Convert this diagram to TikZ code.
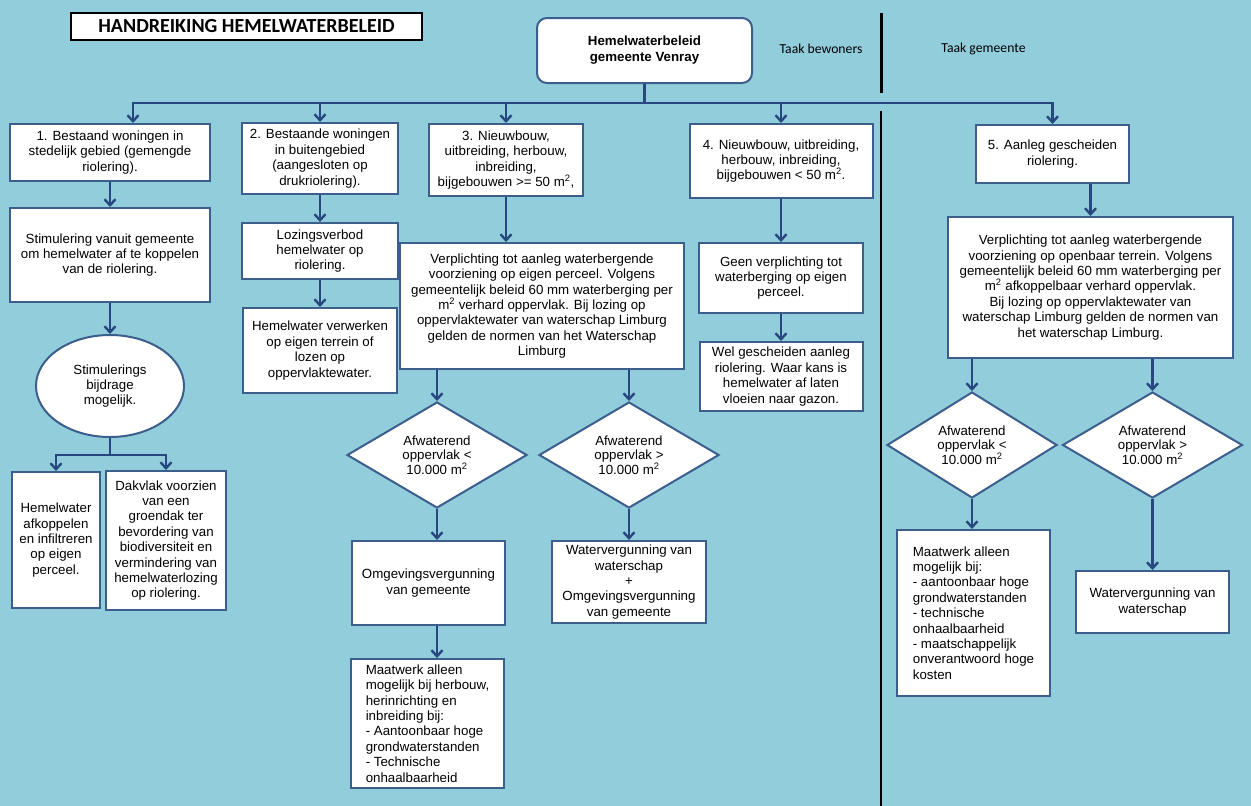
\documentclass[tikz,border=0pt]{standalone}
\usepackage{fontspec}
\setmainfont{Liberation Sans}
\newfontfamily\calibri{Carlito}
\usetikzlibrary{shapes.geometric,arrows.meta}

\definecolor{water}{RGB}{146,205,220}
\definecolor{rand}{RGB}{59,94,140}
\definecolor{pijl}{RGB}{38,72,126}

\begin{document}
\begin{tikzpicture}[x=1pt,y=-1pt,>={Straight Barb[length=6pt,width=11pt]},
  box/.style={draw=rand,fill=white,line width=2pt,inner sep=0pt,align=center,
    font=\fontsize{13.3}{15.4}\selectfont},
  ruit/.style={box,diamond,aspect=1.7,font=\fontsize{13.3}{14.6}\selectfont},
  lijst/.style={box,align=left},
  conn/.style={->,draw=pijl,line width=2.4pt},
  taak/.style={font=\calibri\fontsize{13.7}{16}\selectfont}]
  \fill[water] (0,0) rectangle (1251,806);
  \useasboundingbox (0,0) rectangle (1251,806);

  % kop en taken
  \node[draw=black,fill=white,line width=1.8pt,minimum width=351,minimum height=27,
    font=\calibri\bfseries\fontsize{20}{22}\selectfont] (kop) at (246.5,26.5) {HANDREIKING HEMELWATERBELEID};
  \node[box,rounded corners=10pt,minimum width=215,minimum height=65,
    font=\bfseries\fontsize{13.3}{16}\selectfont] (top) at (644.5,50.5) {Hemelwaterbeleid\\gemeente Venray};
  \node[taak] (bew) at (821,49) {Taak bewoners};
  \node[taak] (gem) at (983.5,49) {Taak gemeente};
  \draw[line width=3pt] (881,13) -- (881,93);
  \draw[line width=1.8pt] (881,111) -- (881,806);

  % eerste rij
  \node[box,minimum width=200,minimum height=57] (b1) at (110,152.5) {1. Bestaand woningen in\\stedelijk gebied (gemengde\\riolering).};
  \node[box,minimum width=156,minimum height=71] (b2) at (320,158.5) {2. Bestaande woningen\\in buitengebied\\(aangesloten op\\drukriolering).};
  \node[box,minimum width=154,minimum height=72] (b3) at (506,160) {3. Nieuwbouw,\\uitbreiding, herbouw,\\inbreiding,\\bijgebouwen >= 50 m\textsuperscript{2},};
  \node[box,minimum width=183,minimum height=74] (b4) at (781,161) {4. Nieuwbouw, uitbreiding,\\herbouw, inbreiding,\\bijgebouwen < 50 m\textsuperscript{2}.};
  \node[box,minimum width=153,minimum height=58] (b5) at (1052.5,154) {5. Aanleg gescheiden\\riolering.};

  % kolom 1
  \node[box,minimum width=200,minimum height=94] (b1b) at (110,255) {Stimulering vanuit gemeente\\om hemelwater af te koppelen\\van de riolering.};
  \node[box,ellipse,minimum width=148,minimum height=102] (e) at (110,386) {Stimulerings\\bijdrage\\mogelijk.};
  \node[box,minimum width=88,minimum height=136] (b1c) at (56,540) {Hemelwater\\afkoppelen\\en infiltreren\\op eigen\\perceel.};
  \node[box,minimum width=120,minimum height=139] (b1d) at (166,540.5) {Dakvlak voorzien\\van een\\groendak ter\\bevordering van\\biodiversiteit en\\vermindering van\\hemelwaterlozing\\op riolering.};

  % kolom 2
  \node[box,minimum width=156,minimum height=56] (b2b) at (320,251) {Lozingsverbod\\hemelwater op\\riolering.};
  \node[box,minimum width=154,minimum height=85] (b2c) at (320,350.5) {Hemelwater verwerken\\op eigen terrein of\\lozen op\\oppervlaktewater.};

  % kolom 3
  \node[box,minimum width=284,minimum height=126] (b3b) at (542,306) {Verplichting tot aanleg waterbergende\\voorziening op eigen perceel. Volgens\\gemeentelijk beleid 60 mm waterberging per\\m\textsuperscript{2} verhard oppervlak. Bij lozing op\\oppervlaktewater van waterschap Limburg\\gelden de normen van het Waterschap\\Limburg};
  \node[ruit,minimum width=180,minimum height=106] (dL) at (437,455) {Afwaterend\\oppervlak <\\10.000 m\textsuperscript{2}};
  \node[ruit,minimum width=180,minimum height=106] (dR) at (629,455) {Afwaterend\\oppervlak >\\10.000 m\textsuperscript{2}};
  \node[box,minimum width=153,minimum height=84] (b3c) at (428.5,583) {Omgevingsvergunning\\van gemeente};
  \node[box,minimum width=154,minimum height=82] (b3d) at (629,582) {Watervergunning van\\waterschap\\+\\Omgevingsvergunning\\van gemeente};
  \node[lijst,minimum width=153,minimum height=129] (b3e) at (427.5,723.5) {Maatwerk alleen\\mogelijk bij herbouw,\\herinrichting en\\inbreiding bij:\\- Aantoonbaar hoge\\grondwaterstanden\\- Technische\\onhaalbaarheid};

  % kolom 4
  \node[box,minimum width=164,minimum height=70] (b4b) at (781,278) {Geen verplichting tot\\waterberging op eigen\\perceel.};
  \node[box,minimum width=163,minimum height=69] (b4c) at (781,376.5) {Wel gescheiden aanleg\\riolering. Waar kans is\\hemelwater af laten\\vloeien naar gazon.};

  % kolom 5
  \node[box,minimum width=285,minimum height=141] (b5b) at (1090.5,287.5) {Verplichting tot aanleg waterbergende\\voorziening op openbaar terrein. Volgens\\gemeentelijk beleid 60 mm waterberging per\\m\textsuperscript{2} afkoppelbaar verhard oppervlak.\\Bij lozing op oppervlaktewater van\\waterschap Limburg gelden de normen van\\het waterschap Limburg.};
  \node[ruit,minimum width=170,minimum height=106] (d5L) at (972,445) {Afwaterend\\oppervlak <\\10.000 m\textsuperscript{2}};
  \node[ruit,minimum width=180,minimum height=106] (d5R) at (1152.5,445) {Afwaterend\\oppervlak >\\10.000 m\textsuperscript{2}};
  \node[lijst,minimum width=153,minimum height=166] (b5c) at (973.5,613) {Maatwerk alleen\\mogelijk bij:\\- aantoonbaar hoge\\grondwaterstanden\\- technische\\onhaalbaarheid\\- maatschappelijk\\onverantwoord hoge\\kosten};
  \node[box,minimum width=153,minimum height=62] (b5d) at (1152.5,602) {Watervergunning van\\waterschap};

  % verbindingen
  \coordinate (bus) at (645,103);
  \draw[conn] (top.south) -- (top.south |- bus) -| ([xshift=23pt]b1.north);
  \draw[conn] (top.south) -- (top.south |- bus) -| (b2.north);
  \draw[conn] (top.south) -- (top.south |- bus) -| (b3.north);
  \draw[conn] (top.south) -- (top.south |- bus) -| (b4.north);
  \draw[conn] (top.south) -- (top.south |- bus) -| (b5.north);
  \draw[conn] (e.south) -- ++(0,17) -| (b1c.north);
  \draw[conn] (e.south) -- ++(0,17) -| (b1d.north);

  \path[conn]
    (b1) edge (b1b)
    (b1b) edge (e)
    (b2) edge (b2b)
    (b2b) edge (b2c)
    (dR) edge (b3d)
    (b4) edge (b4b)
    (b4b) edge (b4c)
    (d5R) edge (b5d);
  \draw[conn] (b3.south) -- (b3.south |- b3b.north);
  \draw[conn] (dL.north |- b3b.south) -- (dL.north);
  \draw[conn] (dR.north |- b3b.south) -- (dR.north);
  \draw[conn] (dL.south) -- (dL.south |- b3c.north);
  \draw[conn] (dL.south |- b3c.south) -- (dL.south |- b3e.north);
  \draw[conn] (b5b.north |- b5.south) -- (b5b.north);
  \draw[conn] (d5L.north |- b5b.south) -- (d5L.north);
  \draw[conn] (d5R.north |- b5b.south) -- (d5R.north);
  \draw[conn] (d5L.south) -- (d5L.south |- b5c.north);
\end{tikzpicture}
\end{document}
